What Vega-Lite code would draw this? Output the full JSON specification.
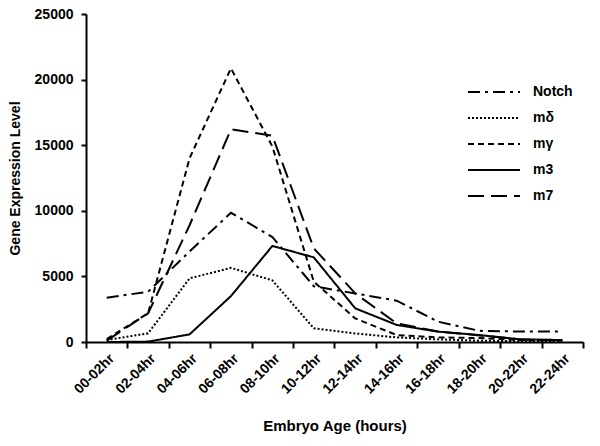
{
  "$schema": "https://vega.github.io/schema/vega-lite/v6.json",
  "autosize": {"type": "none"},
  "width": 497,
  "height": 328,
  "padding": {"left": 86, "top": 14, "right": 17, "bottom": 104},
  "background": "white",
  "config": {
    "view": {"stroke": null},
    "font": "Liberation Sans"
  },
  "data": {
    "values": [
      {"age": "00-02hr", "series": "Notch", "value": 3380},
      {"age": "02-04hr", "series": "Notch", "value": 3830},
      {"age": "04-06hr", "series": "Notch", "value": 6900},
      {"age": "06-08hr", "series": "Notch", "value": 9850},
      {"age": "08-10hr", "series": "Notch", "value": 8000},
      {"age": "10-12hr", "series": "Notch", "value": 4250},
      {"age": "12-14hr", "series": "Notch", "value": 3700},
      {"age": "14-16hr", "series": "Notch", "value": 3150},
      {"age": "16-18hr", "series": "Notch", "value": 1550},
      {"age": "18-20hr", "series": "Notch", "value": 850},
      {"age": "20-22hr", "series": "Notch", "value": 800},
      {"age": "22-24hr", "series": "Notch", "value": 800},
      {"age": "00-02hr", "series": "mδ", "value": 150},
      {"age": "02-04hr", "series": "mδ", "value": 660},
      {"age": "04-06hr", "series": "mδ", "value": 4850},
      {"age": "06-08hr", "series": "mδ", "value": 5650},
      {"age": "08-10hr", "series": "mδ", "value": 4700},
      {"age": "10-12hr", "series": "mδ", "value": 1040},
      {"age": "12-14hr", "series": "mδ", "value": 650},
      {"age": "14-16hr", "series": "mδ", "value": 350},
      {"age": "16-18hr", "series": "mδ", "value": 200},
      {"age": "18-20hr", "series": "mδ", "value": 100},
      {"age": "20-22hr", "series": "mδ", "value": 60},
      {"age": "22-24hr", "series": "mδ", "value": 40},
      {"age": "00-02hr", "series": "mγ", "value": 230},
      {"age": "02-04hr", "series": "mγ", "value": 2190},
      {"age": "04-06hr", "series": "mγ", "value": 14000},
      {"age": "06-08hr", "series": "mγ", "value": 20860},
      {"age": "08-10hr", "series": "mγ", "value": 14900},
      {"age": "10-12hr", "series": "mγ", "value": 4600},
      {"age": "12-14hr", "series": "mγ", "value": 1800},
      {"age": "14-16hr", "series": "mγ", "value": 530},
      {"age": "16-18hr", "series": "mγ", "value": 350},
      {"age": "18-20hr", "series": "mγ", "value": 300},
      {"age": "20-22hr", "series": "mγ", "value": 150},
      {"age": "22-24hr", "series": "mγ", "value": 100},
      {"age": "00-02hr", "series": "m3", "value": 0},
      {"age": "02-04hr", "series": "m3", "value": 30},
      {"age": "04-06hr", "series": "m3", "value": 580},
      {"age": "06-08hr", "series": "m3", "value": 3500},
      {"age": "08-10hr", "series": "m3", "value": 7320},
      {"age": "10-12hr", "series": "m3", "value": 6450},
      {"age": "12-14hr", "series": "m3", "value": 2570},
      {"age": "14-16hr", "series": "m3", "value": 1300},
      {"age": "16-18hr", "series": "m3", "value": 790},
      {"age": "18-20hr", "series": "m3", "value": 530},
      {"age": "20-22hr", "series": "m3", "value": 200},
      {"age": "22-24hr", "series": "m3", "value": 150},
      {"age": "00-02hr", "series": "m7", "value": 100},
      {"age": "02-04hr", "series": "m7", "value": 2190},
      {"age": "04-06hr", "series": "m7", "value": 8900},
      {"age": "06-08hr", "series": "m7", "value": 16210},
      {"age": "08-10hr", "series": "m7", "value": 15720},
      {"age": "10-12hr", "series": "m7", "value": 7140},
      {"age": "12-14hr", "series": "m7", "value": 3710},
      {"age": "14-16hr", "series": "m7", "value": 1420},
      {"age": "16-18hr", "series": "m7", "value": 800},
      {"age": "18-20hr", "series": "m7", "value": 500},
      {"age": "20-22hr", "series": "m7", "value": 200},
      {"age": "22-24hr", "series": "m7", "value": 150}
    ]
  },
  "mark": {"type": "line", "color": "black", "strokeWidth": 2},
  "encoding": {
    "x": {
      "field": "age",
      "type": "ordinal",
      "sort": null,
      "scale": {"paddingInner": 0, "paddingOuter": 0},
      "axis": {
        "title": "Embryo Age (hours)",
        "titleFont": "Liberation Sans",
        "titleFontSize": 15,
        "titleFontWeight": "bold",
        "titleColor": "black",
        "titlePadding": 22,
        "labelAngle": -45,
        "labelFont": "Liberation Sans",
        "labelFontSize": 14,
        "labelFontWeight": "bold",
        "labelColor": "black",
        "labelPadding": 3,
        "domainColor": "black",
        "domainWidth": 2,
        "tickColor": "black",
        "tickWidth": 2,
        "tickSize": 6,
        "tickBand": "extent",
        "grid": false
      }
    },
    "y": {
      "field": "value",
      "type": "quantitative",
      "scale": {"domain": [0, 25000], "nice": false},
      "axis": {
        "title": "Gene Expression Level",
        "titleFont": "Liberation Sans",
        "titleFontSize": 14,
        "titleFontWeight": "bold",
        "titleColor": "black",
        "titlePadding": 12,
        "values": [0, 5000, 10000, 15000, 20000, 25000],
        "format": "d",
        "labelFont": "Liberation Sans",
        "labelFontSize": 14,
        "labelFontWeight": "bold",
        "labelColor": "black",
        "labelPadding": 8,
        "domainColor": "black",
        "domainWidth": 2,
        "tickColor": "black",
        "tickWidth": 2,
        "tickSize": 5,
        "grid": false
      }
    },
    "detail": {"field": "series"},
    "strokeDash": {
      "field": "series",
      "type": "nominal",
      "scale": {
        "domain": ["Notch", "mδ", "mγ", "m3", "m7"],
        "range": [[12, 5, 3, 5], [2, 2], [6, 4], [1, 0], [16, 7]]
      },
      "legend": {
        "title": null,
        "orient": "none",
        "legendX": 381,
        "legendY": 70,
        "symbolType": "stroke",
        "symbolSize": 2700,
        "symbolStrokeWidth": 2,
        "symbolStrokeColor": "black",
        "clipHeight": 16,
        "labelFont": "Liberation Sans",
        "labelFontSize": 14,
        "labelFontWeight": "bold",
        "labelColor": "black",
        "labelOffset": 12,
        "rowPadding": 10
      }
    }
  }
}
